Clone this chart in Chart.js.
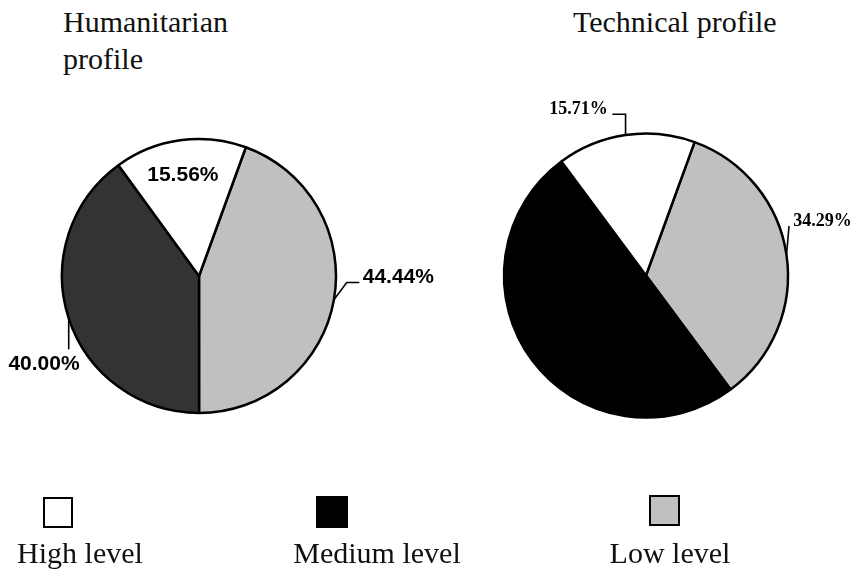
<!DOCTYPE html>
<html>
<head>
<meta charset="utf-8">
<script src="https://cdn.jsdelivr.net/npm/chart.js@4/dist/chart.umd.min.js"></script>
<style>
  html, body { margin: 0; padding: 0; background: #ffffff; }
  body { width: 859px; height: 569px; position: relative; overflow: hidden; }
  .pie { position: absolute; }
  .title, .legend-text {
    position: absolute; font-family: "Liberation Serif", "Times New Roman", serif;
    font-size: 30px; line-height: 37px; color: #111; white-space: nowrap;
  }
  .legend-text { width: 200px; text-align: center; }
  .legend-box { position: absolute; box-sizing: border-box; border: 2px solid #000; }
</style>
</head>
<body>
<div class="title" style="left:63px; top:3px;">Humanitarian<br>profile</div>
<div class="title" style="left:573px; top:3px;">Technical profile</div>

<div class="pie" style="left:-50px; top:0px; width:498px; height:552px;"><canvas id="humanitarian"></canvas></div>
<div class="pie" style="left:433px; top:0px; width:426px; height:551px;"><canvas id="technical"></canvas></div>

<div id="legend"></div>

<script>
// Skill levels and their shares (%) in each profile
const categories = ['High level', 'Medium level', 'Low level'];
const humanitarianShares = [15.56, 40.00, 44.44];
const technicalShares = [15.71, 50.00, 34.29];

// Fill colours per level
const humanitarianColors = ['#ffffff', '#333333', '#c0c0c0'];
const technicalColors = ['#ffffff', '#000000', '#c0c0c0'];
const legendColors = ['#ffffff', '#000000', '#c0c0c0'];

// Slices run anticlockwise High -> Medium -> Low, so they are fed to the
// library in reverse order and drawn clockwise from the rotation angle.
const drawOrder = [2, 1, 0];

// Label placement for each level, relative to the point where the slice's
// bisector meets the rim. null = no label.
const labelLayouts = {
  humanitarian: {
    font: 'bold 21px "Liberation Sans", Arial, sans-serif',
    items: [
      { inside: 0.74, dx: -2, dy: 0 },
      { leader: [[0, 0], [0, 31]], text: [-24.7, 51.7], align: 'center' },
      { leader: [[0, 0], [12.8, -17.3], [25.4, -17.3]], text: [28.8, -16.5], align: 'left' }
    ]
  },
  technical: {
    font: 'bold 18px "Liberation Serif", "Times New Roman", serif',
    items: [
      { leader: [[0, 0], [0, -20.7], [-13.2, -20.7]], text: [-17.8, -21], align: 'right' },
      null,
      { leader: [[0, 0], [2.5, -29]], text: [6.8, -29], align: 'left' }
    ]
  }
};

const valueLabels = {
  id: 'valueLabels',
  afterDatasetsDraw(chart) {
    const cfg = labelLayouts[chart.canvas.id];
    if (!cfg) return;
    const ctx = chart.ctx;
    const meta = chart.getDatasetMeta(0);
    const values = chart.data.datasets[0].data;
    meta.data.forEach((arc, i) => {
      const spec = cfg.items[drawOrder[i]];
      if (!spec) return;
      const p = arc.getProps(['x', 'y', 'startAngle', 'endAngle', 'outerRadius'], true);
      const mid = (p.startAngle + p.endAngle) / 2;
      const text = values[i].toFixed(2) + '%';
      ctx.save();
      ctx.fillStyle = '#000';
      ctx.font = cfg.font;
      if (spec.inside) {
        const r = p.outerRadius * spec.inside;
        ctx.textAlign = 'center';
        ctx.textBaseline = 'middle';
        ctx.fillText(text, p.x + Math.cos(mid) * r + spec.dx, p.y + Math.sin(mid) * r + spec.dy);
      } else {
        const ax = p.x + Math.cos(mid) * p.outerRadius;
        const ay = p.y + Math.sin(mid) * p.outerRadius;
        ctx.strokeStyle = '#000';
        ctx.lineWidth = 1.6;
        ctx.beginPath();
        spec.leader.forEach(([lx, ly], k) => {
          if (k === 0) ctx.moveTo(ax + lx, ay + ly); else ctx.lineTo(ax + lx, ay + ly);
        });
        ctx.stroke();
        ctx.textAlign = spec.align;
        ctx.textBaseline = 'alphabetic';
        ctx.fillText(text, ax + spec.text[0], ay + spec.text[1]);
      }
      ctx.restore();
    });
  }
};

function makePie(id, shares, colors, radius) {
  return new Chart(document.getElementById(id), {
    type: 'pie',
    data: {
      labels: drawOrder.map(k => categories[k]),
      datasets: [{
        data: drawOrder.map(k => shares[k]),
        backgroundColor: drawOrder.map(k => colors[k]),
        borderColor: '#000000',
        borderWidth: 2.5,
        hoverOffset: 0
      }]
    },
    options: {
      responsive: true,
      maintainAspectRatio: false,
      animation: false,
      radius: radius,
      rotation: 20,
      layout: { padding: 0 },
      events: [],
      plugins: {
        legend: { display: false },
        tooltip: { enabled: false }
      }
    },
    plugins: [valueLabels]
  });
}

makePie('humanitarian', humanitarianShares, humanitarianColors, 137);
makePie('technical', technicalShares, technicalColors, 142);

// Legend: swatch above each level name
const legendBoxes = [
  { left: 43, top: 497, w: 30, h: 31 },
  { left: 316, top: 496, w: 32, h: 32 },
  { left: 649, top: 495, w: 31, h: 31 }
];
const legendTextCenters = [80, 377, 670];
const legend = document.getElementById('legend');
categories.forEach((name, k) => {
  const b = legendBoxes[k];
  const box = document.createElement('div');
  box.className = 'legend-box';
  box.style.cssText = `left:${b.left}px;top:${b.top}px;width:${b.w}px;height:${b.h}px;background:${legendColors[k]};`;
  legend.appendChild(box);
  const t = document.createElement('div');
  t.className = 'legend-text';
  t.style.left = (legendTextCenters[k] - 100) + 'px';
  t.style.top = '534px';
  t.textContent = name;
  legend.appendChild(t);
});
</script>
</body>
</html>
